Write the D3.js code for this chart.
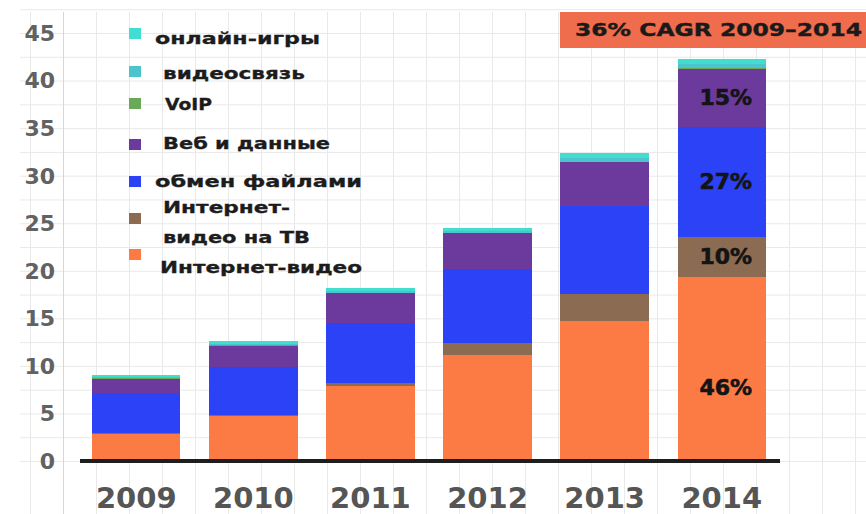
<!DOCTYPE html>
<html>
<head>
<meta charset="utf-8">
<script src="https://cdn.jsdelivr.net/npm/d3@7"></script>
<style>
  body { margin: 0; background: #fff; }
  svg { display: block; font-family: "DejaVu Sans", Verdana, sans-serif; }
</style>
</head>
<body>
<div id="chart"></div>
<script>
// data (units on the left axis)
const years = ["2009", "2010", "2011", "2012", "2013", "2014"];
const seriesNames = ["Интернет-видео", "Интернет-видео на ТВ", "обмен файлами", "Веб и данные", "VoIP", "видеосвязь", "онлайн-игры"];
const internetVideo = [2.9, 4.8, 8.0, 11.2, 14.8, 19.4];
const internetTv    = [0.1, 0.15, 0.3, 1.3, 2.8, 4.2];
const fileSharing   = [4.2, 4.95, 6.3, 7.7, 9.3, 11.6];
const webData       = [1.5, 2.3, 3.1, 3.8, 4.6, 6.1];
const voip          = [0.05, 0.05, 0.05, 0.05, 0.05, 0.1];
const videoCalls    = [0.1, 0.15, 0.2, 0.2, 0.35, 0.4];
const onlineGames   = [0.15, 0.2, 0.25, 0.25, 0.5, 0.5];
const yTicks = [0, 5, 10, 15, 20, 25, 30, 35, 40, 45];
const pctLabels = ["46%", "10%", "27%", "15%"];   // 2014 bar, series 0..3
const pctAt = [7.8, 21.5, 29.4, 38.25];
const cagrText = "36% CAGR 2009–2014";

const colors = ["#fc7b44", "#8b6b52", "#2b42f6", "#6b3a9c", "#6aa957", "#4cc4cc", "#40ddd0"];

const width = 866, height = 514;

const svg = d3.select("#chart").append("svg")
  .attr("width", width).attr("height", height);

const table = years.map((y, i) => ({
  year: y,
  [seriesNames[0]]: internetVideo[i],
  [seriesNames[1]]: internetTv[i],
  [seriesNames[2]]: fileSharing[i],
  [seriesNames[3]]: webData[i],
  [seriesNames[4]]: voip[i],
  [seriesNames[5]]: videoCalls[i],
  [seriesNames[6]]: onlineGames[i],
}));

const xScale = d3.scaleBand().domain(years).range([78, 780])
  .paddingInner(0.245).paddingOuter(0.12);
const yScale = d3.scaleLinear().domain([0, 45]).range([461, 33]);

// graph-paper grid
const grid = svg.append("g").attr("stroke", "#e9e9e9").attr("stroke-width", 1);
grid.selectAll("line.h")
  .data(d3.range(0, 48.75, 2.5))
  .join("line").attr("class", "h")
  .attr("x1", 20).attr("x2", width)
  .attr("y1", d => yScale(d) + 0.5).attr("y2", d => yScale(d) + 0.5);
const gx = d3.scaleLinear().domain([0, 25]).range([30, 855]);
grid.selectAll("line.v")
  .data(d3.range(0, 26))
  .join("line").attr("class", "v")
  .attr("x1", d => gx(d) + 0.5).attr("x2", d => gx(d) + 0.5)
  .attr("y1", 12).attr("y2", height);
svg.append("line")
  .attr("x1", 63.5).attr("x2", 63.5).attr("y1", 12).attr("y2", height)
  .attr("stroke", "#d6d6d6");

// stacked bars
const stack = d3.stack().keys(seriesNames);
const layers = stack(table);

svg.append("g").attr("shape-rendering", "crispEdges").selectAll("g")
  .data(layers)
  .join("g")
  .attr("fill", (d, i) => colors[i])
  .selectAll("rect")
  .data(d => d)
  .join("rect")
  .attr("x", d => xScale(d.data.year))
  .attr("width", xScale.bandwidth())
  .attr("y", d => yScale(d[1]))
  .attr("height", d => yScale(d[0]) - yScale(d[1]) + 0.6);

// baseline
svg.append("line")
  .attr("x1", 80).attr("x2", 780)
  .attr("y1", yScale(0)).attr("y2", yScale(0))
  .attr("stroke", "#1e1e1e").attr("stroke-width", 4);

// y tick labels
svg.append("g").selectAll("text")
  .data(yTicks)
  .join("text")
  .attr("x", 55)
  .attr("y", d => yScale(d))
  .attr("dy", "0.36em")
  .attr("text-anchor", "end")
  .attr("font-size", 22)
  .attr("font-weight", "bold")
  .attr("fill", "#626262")
  .text(d => d);

// year labels
svg.append("g").selectAll("text")
  .data(years)
  .join("text")
  .attr("x", d => xScale(d) + xScale.bandwidth() / 2)
  .attr("y", 498)
  .attr("dy", "0.36em")
  .attr("text-anchor", "middle")
  .attr("font-size", 29)
  .attr("font-weight", "bold")
  .attr("fill", "#555")
  .text(d => d);

// percent labels on 2014 bar
svg.append("g").selectAll("text")
  .data(pctLabels)
  .join("text")
  .attr("x", xScale("2014") + xScale.bandwidth() / 2 + 4)
  .attr("y", (d, i) => yScale(pctAt[i]))
  .attr("dy", "0.36em")
  .attr("text-anchor", "middle")
  .attr("font-size", 22)
  .attr("font-weight", "bold")
  .attr("fill", "#141414")
  .attr("stroke", "#141414").attr("stroke-width", 0.6)
  .text(d => d);

// CAGR box
svg.append("rect")
  .attr("x", 560).attr("y", 12).attr("width", 306).attr("height", 36)
  .attr("fill", "#ef6c4c");
svg.append("text")
  .attr("x", 575).attr("y", 30).attr("dy", "0.36em")
  .attr("font-size", 18).attr("font-weight", "bold").attr("fill", "#1a1a1a")
  .attr("stroke", "#1a1a1a").attr("stroke-width", 0.4)
  .attr("textLength", 287).attr("lengthAdjust", "spacingAndGlyphs")
  .text(cagrText);

// legend (top item first)
const legendItems = [
  { lines: ["онлайн-игры"], color: colors[6], sy: 28, tx: 155, ty: [38], w: [165] },
  { lines: ["видеосвязь"], color: colors[5], sy: 66, tx: 163, ty: [73], w: [142] },
  { lines: ["VoIP"], color: colors[4], sy: 98, tx: 165, ty: [104], w: [47] },
  { lines: ["Веб и данные"], color: colors[3], sy: 139, tx: 163, ty: [143], w: [167] },
  { lines: ["обмен файлами"], color: colors[2], sy: 176, tx: 155, ty: [181], w: [207] },
  { lines: ["Интернет-", "видео на ТВ"], color: colors[1], sy: 213, tx: 163, ty: [207, 237], w: [127, 147] },
  { lines: ["Интернет-видео"], color: colors[0], sy: 249, tx: 160, ty: [267], w: [202] },
];
const legend = svg.append("g");
legendItems.forEach(it => {
  legend.append("rect")
    .attr("x", 129).attr("y", it.sy).attr("width", 12).attr("height", 11)
    .attr("fill", it.color);
  it.lines.forEach((t, j) => {
    legend.append("text")
      .attr("x", it.tx).attr("y", it.ty[j]).attr("dy", "0.36em")
      .attr("font-size", 16).attr("font-weight", "bold").attr("fill", "#1c1c1c")
      .attr("stroke", "#1c1c1c").attr("stroke-width", 0.3)
      .attr("textLength", it.w[j]).attr("lengthAdjust", "spacingAndGlyphs")
      .text(t);
  });
});
</script>
</body>
</html>
